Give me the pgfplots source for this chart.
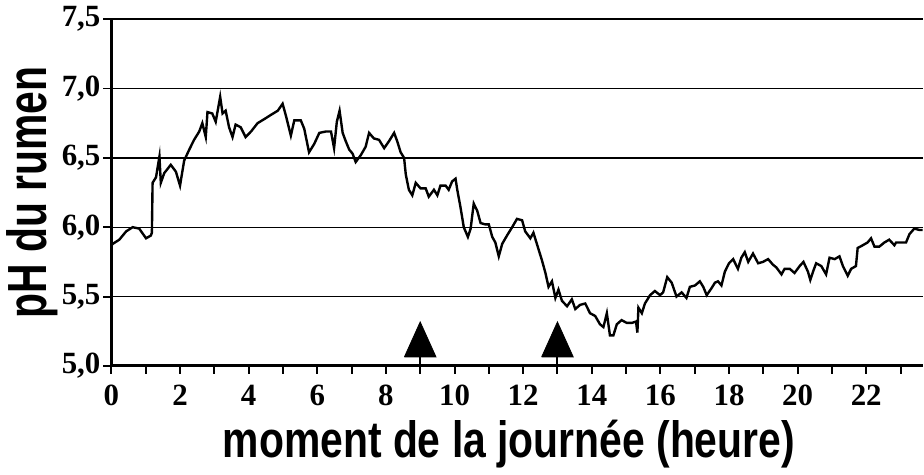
\documentclass[border=0pt]{standalone}
\usepackage{fontspec}
\setmainfont{Liberation Serif}
\newfontfamily\labelfont{Liberation Sans}
\usepackage{graphicx}
\usepackage{pgfplots}
\pgfplotsset{compat=1.18}
\pgfplotstableread{
h ph
0.00 5.87
0.04 5.88
0.23 5.91
0.43 5.97
0.62 6.00
0.81 5.99
1.01 5.92
1.15 5.94
1.18 5.96
1.20 6.32
1.30 6.36
1.40 6.51
1.44 6.32
1.54 6.39
1.73 6.45
1.88 6.40
2.00 6.30
2.12 6.48
2.27 6.56
2.41 6.63
2.56 6.69
2.65 6.75
2.75 6.65
2.80 6.83
2.94 6.82
3.04 6.76
3.17 6.94
3.24 6.82
3.33 6.84
3.43 6.72
3.53 6.65
3.62 6.74
3.77 6.72
3.91 6.65
4.07 6.69
4.26 6.75
4.46 6.78
4.65 6.81
4.85 6.84
4.99 6.89
5.09 6.80
5.23 6.66
5.33 6.77
5.52 6.77
5.62 6.71
5.76 6.54
5.91 6.60
6.06 6.68
6.25 6.69
6.40 6.69
6.49 6.57
6.57 6.76
6.65 6.84
6.74 6.68
6.83 6.62
6.93 6.56
7.03 6.53
7.12 6.47
7.27 6.52
7.41 6.58
7.51 6.68
7.65 6.64
7.80 6.63
7.95 6.57
8.09 6.62
8.24 6.68
8.33 6.62
8.43 6.54
8.53 6.50
8.58 6.38
8.67 6.27
8.77 6.23
8.87 6.32
9.01 6.28
9.16 6.28
9.25 6.22
9.40 6.27
9.50 6.23
9.59 6.30
9.74 6.30
9.83 6.27
9.93 6.33
10.03 6.35
10.08 6.27
10.17 6.15
10.27 6.00
10.39 5.93
10.47 5.99
10.56 6.17
10.66 6.12
10.76 6.03
10.90 6.02
11.00 6.02
11.10 5.93
11.19 5.89
11.29 5.79
11.39 5.88
11.53 5.94
11.68 6.00
11.82 6.06
11.97 6.05
12.06 5.97
12.21 5.92
12.30 5.96
12.40 5.88
12.55 5.76
12.65 5.67
12.74 5.57
12.84 5.61
12.94 5.49
13.03 5.55
13.13 5.47
13.28 5.43
13.42 5.48
13.52 5.41
13.66 5.44
13.81 5.45
13.95 5.38
14.10 5.36
14.24 5.30
14.34 5.28
14.44 5.38
14.53 5.22
14.63 5.22
14.73 5.30
14.87 5.33
15.02 5.31
15.17 5.31
15.29 5.32
15.33 5.24
15.36 5.42
15.46 5.38
15.55 5.45
15.70 5.51
15.84 5.54
15.99 5.51
16.08 5.53
16.20 5.64
16.33 5.60
16.47 5.50
16.62 5.53
16.76 5.49
16.86 5.57
17.01 5.58
17.15 5.61
17.25 5.57
17.35 5.51
17.49 5.56
17.59 5.60
17.68 5.61
17.78 5.58
17.88 5.68
18.00 5.74
18.12 5.77
18.26 5.70
18.36 5.78
18.46 5.82
18.56 5.75
18.70 5.81
18.85 5.74
18.99 5.75
19.14 5.77
19.28 5.73
19.38 5.71
19.53 5.66
19.62 5.70
19.77 5.70
19.91 5.67
20.06 5.72
20.17 5.75
20.30 5.68
20.37 5.62
20.45 5.68
20.54 5.74
20.69 5.72
20.83 5.66
20.93 5.78
21.08 5.77
21.22 5.79
21.32 5.72
21.46 5.65
21.56 5.70
21.70 5.72
21.75 5.85
21.90 5.87
22.04 5.89
22.14 5.92
22.24 5.86
22.38 5.86
22.53 5.89
22.67 5.91
22.82 5.87
22.87 5.89
23.01 5.89
23.16 5.89
23.26 5.95
23.40 5.99
23.55 5.98
23.64 5.98
}\phdata
\begin{document}
\begin{tikzpicture}
\begin{axis}[
  scale only axis, width=407pt, height=174pt,
  xmin=0, xmax=23.64, ymin=5, ymax=7.5,
  axis lines=left, axis line style={-, line width=1.5pt},
  xtick={0,2,...,22}, minor xtick={1,3,...,23},
  ytick={5,5.5,...,7.5},
  ymajorgrids, grid style={line width=0.7pt, black},
  tick style={black, line width=1pt},
  major tick length=4pt, minor tick length=4pt,
  tick align=outside,
  /pgf/number format/assume math mode=true,
  yticklabel style={/pgf/number format/use comma, /pgf/number format/fixed, /pgf/number format/fixed zerofill, /pgf/number format/precision=1, xshift=2pt},
  xticklabel style={yshift=-2pt},
  ticklabel style={font=\fontsize{15.5}{15.5}\selectfont\bfseries},
  xlabel={\scalebox{1}[1.25]{\labelfont\bfseries\fontsize{20.5}{20.5}\selectfont moment de la journée (heure)}},
  xlabel style={at={(axis description cs:0.49,0)}, anchor=base, yshift=-46pt},
  ylabel={\scalebox{1}[1.35]{\labelfont\bfseries\fontsize{20.5}{20.5}\selectfont pH du rumen}},
  ylabel style={yshift=-5pt},
  clip=false,
]
\addplot[black, line width=1.2pt] table[x=h, y=ph] {\phdata};
\addplot[black, fill=black] coordinates {(8.54,5.065) (9.46,5.065) (9,5.317) (8.54,5.065)};
\addplot[black, fill=black] coordinates {(12.54,5.065) (13.46,5.065) (13,5.317) (12.54,5.065)};
\addplot[black, line width=1pt] coordinates {(9,5.0) (9,5.07)};
\addplot[black, line width=1pt] coordinates {(13,5.0) (13,5.07)};
\end{axis}
\end{tikzpicture}
\end{document}
